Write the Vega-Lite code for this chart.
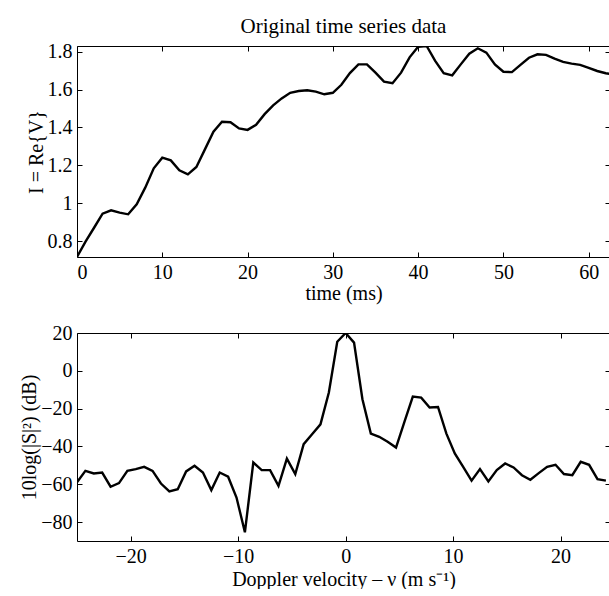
{
  "$schema": "https://vega.github.io/schema/vega-lite/v6.json",
  "padding": {"left": 19, "top": 15, "right": 0, "bottom": 0},
  "background": "white",
  "spacing": 76,
  "bounds": "flush",
  "config": {
    "view": {"stroke": null},
    "font": "Liberation Serif",
    "axis": {
      "grid": false,
      "domainColor": "black",
      "domainWidth": 1,
      "tickColor": "black",
      "tickSize": -5,
      "labelColor": "black",
      "labelFont": "Liberation Serif",
      "labelFontSize": 20,
      "labelPadding": 10,
      "titleColor": "black",
      "titleFont": "Liberation Serif",
      "titleFontSize": 20,
      "titleFontWeight": "normal",
      "titlePadding": 1
    }
  },
  "datasets": {
    "ts": [
      {"t": 0, "I": 0.716}, {"t": 1, "I": 0.797}, {"t": 2, "I": 0.87}, {"t": 3, "I": 0.944},
      {"t": 4, "I": 0.962}, {"t": 5, "I": 0.95}, {"t": 6, "I": 0.941}, {"t": 7, "I": 0.994},
      {"t": 8, "I": 1.082}, {"t": 9, "I": 1.184}, {"t": 10, "I": 1.24}, {"t": 11, "I": 1.226},
      {"t": 12, "I": 1.173}, {"t": 13, "I": 1.152}, {"t": 14, "I": 1.191}, {"t": 15, "I": 1.284},
      {"t": 16, "I": 1.377}, {"t": 17, "I": 1.43}, {"t": 18, "I": 1.427}, {"t": 19, "I": 1.395},
      {"t": 20, "I": 1.387}, {"t": 21, "I": 1.414}, {"t": 22, "I": 1.47}, {"t": 23, "I": 1.516},
      {"t": 24, "I": 1.553}, {"t": 25, "I": 1.583}, {"t": 26, "I": 1.592}, {"t": 27, "I": 1.596},
      {"t": 28, "I": 1.589}, {"t": 29, "I": 1.575}, {"t": 30, "I": 1.583}, {"t": 31, "I": 1.625},
      {"t": 32, "I": 1.687}, {"t": 33, "I": 1.733}, {"t": 34, "I": 1.733}, {"t": 35, "I": 1.689},
      {"t": 36, "I": 1.642}, {"t": 37, "I": 1.633}, {"t": 38, "I": 1.689}, {"t": 39, "I": 1.77},
      {"t": 40, "I": 1.826}, {"t": 41, "I": 1.83}, {"t": 42, "I": 1.751}, {"t": 43, "I": 1.686},
      {"t": 44, "I": 1.675}, {"t": 45, "I": 1.733}, {"t": 46, "I": 1.789}, {"t": 47, "I": 1.818},
      {"t": 48, "I": 1.795}, {"t": 49, "I": 1.733}, {"t": 50, "I": 1.694}, {"t": 51, "I": 1.692},
      {"t": 52, "I": 1.73}, {"t": 53, "I": 1.768}, {"t": 54, "I": 1.786}, {"t": 55, "I": 1.783},
      {"t": 56, "I": 1.763}, {"t": 57, "I": 1.746}, {"t": 58, "I": 1.737}, {"t": 59, "I": 1.73},
      {"t": 60, "I": 1.715}, {"t": 61, "I": 1.698}, {"t": 62, "I": 1.686}, {"t": 63, "I": 1.68}
    ],
    "sp": [
      {"v": -25, "P": -59}, {"v": -24.21875, "P": -52.9}, {"v": -23.4375, "P": -54.3}, {"v": -22.65625, "P": -53.8},
      {"v": -21.875, "P": -61.3}, {"v": -21.09375, "P": -59.4}, {"v": -20.3125, "P": -52.9}, {"v": -19.53125, "P": -52.0},
      {"v": -18.75, "P": -50.8}, {"v": -17.96875, "P": -52.9}, {"v": -17.1875, "P": -59.6}, {"v": -16.40625, "P": -63.8},
      {"v": -15.625, "P": -62.6}, {"v": -14.84375, "P": -53.2}, {"v": -14.0625, "P": -50.2}, {"v": -13.28125, "P": -53.8},
      {"v": -12.5, "P": -63.1}, {"v": -11.71875, "P": -53.8}, {"v": -10.9375, "P": -56.0}, {"v": -10.15625, "P": -67.0},
      {"v": -9.375, "P": -85.4}, {"v": -8.59375, "P": -48.5}, {"v": -7.8125, "P": -52.5}, {"v": -7.03125, "P": -52.5},
      {"v": -6.25, "P": -60.8}, {"v": -5.46875, "P": -46.4}, {"v": -4.6875, "P": -54.6}, {"v": -3.90625, "P": -38.8},
      {"v": -3.125, "P": -33.5}, {"v": -2.34375, "P": -28.3}, {"v": -1.5625, "P": -11.5}, {"v": -0.78125, "P": 15.4},
      {"v": 0, "P": 20}, {"v": 0.78125, "P": 14.9}, {"v": 1.5625, "P": -15.0}, {"v": 2.34375, "P": -33.2},
      {"v": 3.125, "P": -34.9}, {"v": 3.90625, "P": -37.5}, {"v": 4.6875, "P": -40.6}, {"v": 5.46875, "P": -27},
      {"v": 6.25, "P": -13.6}, {"v": 7.03125, "P": -14.2}, {"v": 7.8125, "P": -19.4}, {"v": 8.59375, "P": -19.1},
      {"v": 9.375, "P": -33.2}, {"v": 10.15625, "P": -43.7}, {"v": 10.9375, "P": -50.8}, {"v": 11.71875, "P": -58.1},
      {"v": 12.5, "P": -52.0}, {"v": 13.28125, "P": -58.5}, {"v": 14.0625, "P": -52.5}, {"v": 14.84375, "P": -49.0},
      {"v": 15.625, "P": -51.1}, {"v": 16.40625, "P": -55.2}, {"v": 17.1875, "P": -57.6}, {"v": 17.96875, "P": -54.1},
      {"v": 18.75, "P": -50.8}, {"v": 19.53125, "P": -49.7}, {"v": 20.3125, "P": -54.6}, {"v": 21.09375, "P": -55.2},
      {"v": 21.875, "P": -48.1}, {"v": 22.65625, "P": -49.7}, {"v": 23.4375, "P": -57.3}, {"v": 24.21875, "P": -58.1}
    ]
  },
  "vconcat": [
    {
      "width": 533,
      "height": 211,
      "title": {"text": "Original time series data", "frame": "group", "anchor": "middle", "font": "Liberation Serif", "fontSize": 21, "fontWeight": "normal", "color": "black", "offset": 5},
      "data": {"name": "ts"},
      "resolve": {"axis": {"x": "independent", "y": "independent"}},
      "layer": [
        {
          "mark": {"type": "line", "color": "black", "strokeWidth": 2.4, "clip": true},
          "encoding": {
            "x": {"field": "t", "type": "quantitative", "scale": {"domain": [0, 62.5], "nice": false, "zero": false},
                  "axis": {"orient": "bottom", "values": [0, 10, 20, 30, 40, 50, 60], "title": "time (ms)"}},
            "y": {"field": "I", "type": "quantitative", "scale": {"domain": [0.7155, 1.83], "nice": false, "zero": false},
                  "axis": {"orient": "left", "values": [0.8, 1, 1.2, 1.4, 1.6, 1.8], "format": "~g", "title": "I = Re{V}"}}
          }
        },
        {
          "mark": {"type": "line", "color": "black", "opacity": 0, "clip": true},
          "encoding": {
            "x": {"field": "t", "type": "quantitative",
                  "axis": {"orient": "top", "values": [0, 10, 20, 30, 40, 50, 60], "labels": false, "title": null}},
            "y": {"field": "I", "type": "quantitative",
                  "axis": {"orient": "right", "domain": false, "values": [0.8, 1, 1.2, 1.4, 1.6, 1.8], "labels": false, "title": null}}
          }
        }
      ]
    },
    {
      "width": 533,
      "height": 208,
      "data": {"name": "sp"},
      "resolve": {"axis": {"x": "independent", "y": "independent"}},
      "layer": [
        {
          "mark": {"type": "line", "color": "black", "strokeWidth": 2.4, "clip": true},
          "encoding": {
            "x": {"field": "v", "type": "quantitative", "scale": {"domain": [-25, 24.6], "nice": false, "zero": false},
                  "axis": {"orient": "bottom", "values": [-20, -10, 0, 10, 20], "title": "Doppler velocity – ν (m s⁻¹)", "titlePadding": 3}},
            "y": {"field": "P", "type": "quantitative", "scale": {"domain": [-90, 20], "nice": false, "zero": false},
                  "axis": {"orient": "left", "values": [-80, -60, -40, -20, 0, 20], "title": "10log(|S|²) (dB)"}}
          }
        },
        {
          "mark": {"type": "line", "color": "black", "opacity": 0, "clip": true},
          "encoding": {
            "x": {"field": "v", "type": "quantitative",
                  "axis": {"orient": "top", "values": [-20, -10, 0, 10, 20], "labels": false, "title": null}},
            "y": {"field": "P", "type": "quantitative",
                  "axis": {"orient": "right", "domain": false, "values": [-80, -60, -40, -20, 0, 20], "labels": false, "title": null}}
          }
        }
      ]
    }
  ]
}
